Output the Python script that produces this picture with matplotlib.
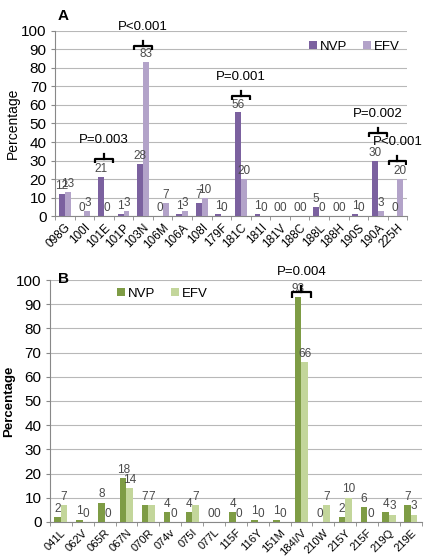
import matplotlib
matplotlib.use("Agg")
import matplotlib.pyplot as plt
import numpy as np

plt.rcParams['font.family'] = ['Liberation Sans', 'DejaVu Sans']

# Panel A data
cats_a = ['098G', '100I', '101E', '101P', '103N', '106M', '106A', '108I', '179F',
          '181C', '181I', '181V', '188C', '188L', '188H', '190S', '190A', '225H']
nvp_a = [12, 0, 21, 1, 28, 0, 1, 7, 1, 56, 1, 0, 0, 5, 0, 1, 30, 0]
efv_a = [13, 3, 0, 3, 83, 7, 3, 10, 0, 20, 0, 0, 0, 0, 0, 0, 3, 20]
# (category, p-value text, bracket level, text level)
pvals_a = [('101E', 'P=0.003', 31, 38),
           ('103N', 'P<0.001', 92, 99),
           ('181C', 'P=0.001', 65, 72),
           ('190A', 'P=0.002', 45, 52),
           ('225H', 'P<0.001', 30, 37)]

# Panel B data
cats_b = ['041L', '062V', '065R', '067N', '070R', '074v', '075I', '077L', '115F',
          '116Y', '151M', '184I/V', '210W', '215Y', '215F', '219Q', '219E']
nvp_b = [2, 1, 8, 18, 7, 4, 4, 0, 4, 1, 1, 93, 0, 2, 6, 4, 7]
efv_b = [7, 0, 0, 14, 7, 0, 7, 0, 0, 0, 0, 66, 7, 10, 0, 3, 3]
pvals_b = [('184I/V', 'P=0.004', 95, 101)]


def draw_panel(ax, cats, nvp, efv, pvals, c1, c2, width, xfs):
    x = np.arange(len(cats))
    ax.bar(x - width / 2, nvp, width, color=c1, label='NVP', zorder=3)
    ax.bar(x + width / 2, efv, width, color=c2, label='EFV', zorder=3)
    for xi, a, b in zip(x, nvp, efv):
        ax.text(xi - width / 2, a + 1, str(a), ha='center', va='bottom',
                fontsize=8.5, color='#4a4a4a', zorder=4)
        ax.text(xi + width / 2, b + 1, str(b), ha='center', va='bottom',
                fontsize=8.5, color='#4a4a4a', zorder=4)
    for cat, txt, lvl, tl in pvals:
        xi = cats.index(cat)
        l, r = xi - 0.45, xi + 0.45
        ax.plot([l, l, r, r], [lvl - 2.5, lvl, lvl, lvl - 2.5], color='black', lw=1.6,
                zorder=5, solid_capstyle='butt', solid_joinstyle='round')
        ax.plot([xi, xi], [lvl, lvl + 2.5], color='black', lw=1.6, zorder=5)
        ax.text(xi, tl, txt, ha='center', va='bottom', fontsize=9.5, zorder=5)
    ax.set_xlim(-0.5, len(cats) - 0.5)
    ax.set_ylim(0, 100)
    ax.set_yticks(range(0, 101, 10))
    ax.yaxis.grid(True, color='#b8b8b8', lw=0.8, zorder=0)
    ax.set_xticks(x)
    ax.set_xticklabels(cats, rotation=45, ha='right', rotation_mode='anchor', fontsize=xfs)
    ax.set_xticks(np.arange(-0.5, len(cats)), minor=True)
    ax.tick_params(axis='x', which='major', length=0, pad=4)
    ax.tick_params(axis='x', which='minor', length=3, color='#888888')
    ax.tick_params(axis='y', length=3, color='#888888', labelsize=11, pad=3)
    for s in ['top', 'right']:
        ax.spines[s].set_visible(False)
    for s in ['left', 'bottom']:
        ax.spines[s].set_color('#888888')


fig = plt.figure(figsize=(4.3, 5.6), dpi=100)
ax1 = fig.add_axes([0.128, 0.614, 0.819, 0.331])
ax2 = fig.add_axes([0.116, 0.068, 0.865, 0.432])

draw_panel(ax1, cats_a, nvp_a, efv_a, pvals_a, '#7B619F', '#B3A3C9', 0.3, 8.5)
draw_panel(ax2, cats_b, nvp_b, efv_b, pvals_b, '#7E9C45', '#C3D69B', 0.3, 8)

ax1.set_ylabel('Percentage', fontsize=10, labelpad=1)
ax2.set_ylabel('Percentage', fontsize=9.5, fontweight='bold', labelpad=1)

fig.text(0.135, 0.972, 'A', fontsize=11, fontweight='bold', va='center')
fig.text(0.135, 0.502, 'B', fontsize=11, fontweight='bold', va='center')

ax1.legend(loc='upper right', bbox_to_anchor=(1.0, 0.99), ncol=2, frameon=False,
           fontsize=9.5, handlelength=0.6, handleheight=0.6, handletextpad=0.2,
           columnspacing=1.2, borderaxespad=0.2)
ax2.legend(loc='upper left', bbox_to_anchor=(0.16, 1.0), ncol=2, frameon=False,
           fontsize=9.5, handlelength=0.6, handleheight=0.6, handletextpad=0.2,
           columnspacing=1.2, borderaxespad=0.2)

fig.savefig('out.png', dpi=100)
